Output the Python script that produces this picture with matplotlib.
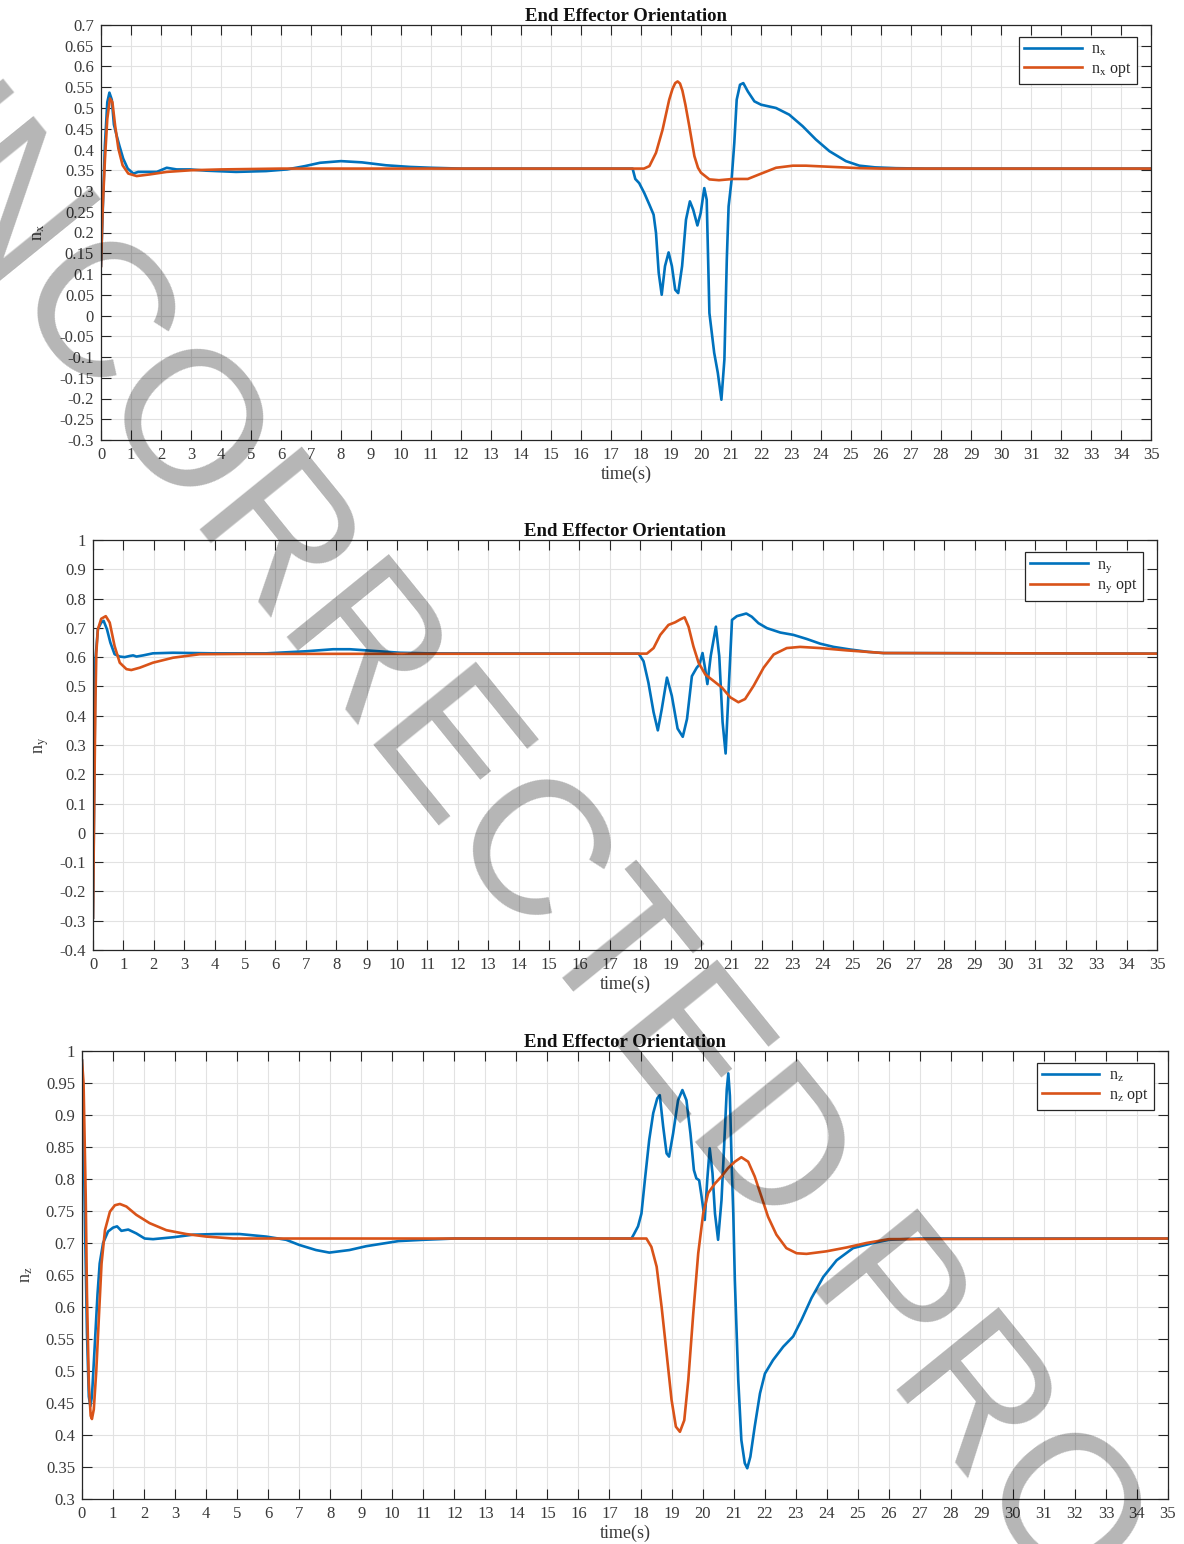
import matplotlib
matplotlib.use("Agg")
import matplotlib.pyplot as plt
from matplotlib.ticker import FuncFormatter, MultipleLocator

plt.rcParams['font.family'] = ['Liberation Serif', 'DejaVu Serif']
plt.rcParams['mathtext.fontset'] = 'stix'

BLUE = '#0072BD'
ORANGE = '#D95319'
INK = '#262626'

# ---------------- n_x ----------------
t_nx = [0.0, 0.07, 0.13, 0.21, 0.28, 0.36, 0.43, 0.52, 0.61, 0.74, 0.89, 1.08, 1.24, 1.41,
        1.86, 2.19, 2.52, 2.97, 3.5, 4.5, 5.5, 6.2, 6.8, 7.3, 8.0, 8.7, 9.5, 10.3, 11.0, 12.0,
        17.72, 17.81, 17.94, 18.11, 18.28, 18.42, 18.5, 18.59, 18.69, 18.8, 18.92, 19.03,
        19.14, 19.24, 19.37, 19.5, 19.63, 19.74, 19.88, 19.99, 20.11, 20.19, 20.28, 20.44,
        20.56, 20.68, 20.78, 20.86, 20.92, 21.02, 21.11, 21.19, 21.3, 21.41, 21.56, 21.78,
        22.0, 22.5, 22.94, 23.39, 23.83, 24.28, 24.83, 25.28, 25.8, 26.5, 27.5, 35.0]
nx = [0.12, 0.28, 0.41, 0.514, 0.537, 0.52, 0.46, 0.434, 0.41, 0.378, 0.354, 0.342, 0.346, 0.346,
      0.346, 0.356, 0.352, 0.352, 0.349, 0.346, 0.348, 0.352, 0.36, 0.368, 0.372, 0.369, 0.362,
      0.358, 0.356, 0.354,
      0.354, 0.329, 0.319, 0.295, 0.267, 0.243, 0.199, 0.103, 0.05, 0.119, 0.152, 0.119,
      0.062, 0.054, 0.119, 0.231, 0.275, 0.255, 0.217, 0.247, 0.307, 0.279, 0.006, -0.09,
      -0.138, -0.203, -0.106, 0.135, 0.263, 0.327, 0.416, 0.52, 0.556, 0.56, 0.54, 0.516,
      0.508, 0.5, 0.484, 0.456, 0.424, 0.396, 0.372, 0.361, 0.357, 0.355, 0.354, 0.354]

t_nx_opt = [0.0, 0.056, 0.133, 0.21, 0.3, 0.38, 0.47, 0.58, 0.72, 0.91, 1.19, 1.63, 2.19, 3.0,
            4.0, 5.0, 6.0, 18.1, 18.28, 18.5, 18.72, 18.94, 19.05, 19.14, 19.22, 19.3, 19.38,
            19.48, 19.61, 19.78, 19.9, 20.0, 20.28, 20.6, 21.06, 21.56, 21.94, 22.5, 23.06,
            23.5, 24.4, 25.3, 26.0, 35.0]
nx_opt = [0.119, 0.258, 0.378, 0.474, 0.523, 0.514, 0.458, 0.402, 0.362, 0.342, 0.336, 0.34,
          0.346, 0.35, 0.352, 0.353, 0.354, 0.354, 0.36, 0.392, 0.448, 0.52, 0.546, 0.56,
          0.564, 0.559, 0.542, 0.508, 0.456, 0.384, 0.356, 0.344, 0.328, 0.326, 0.329, 0.329,
          0.34, 0.356, 0.361, 0.361, 0.358, 0.355, 0.354, 0.354]

# ---------------- n_y ----------------
t_ny = [0.0, 0.04, 0.08, 0.16, 0.27, 0.35, 0.46, 0.57, 0.71, 0.88, 1.04, 1.21, 1.32, 1.43,
        1.65, 1.97, 2.63, 3.95, 5.7, 7.0, 7.9, 8.45, 10.1, 11.0, 17.78, 17.95, 18.11, 18.27,
        18.44, 18.58, 18.71, 18.88, 19.04, 19.23, 19.4, 19.54, 19.7, 19.86, 19.95, 20.05,
        20.14, 20.21, 20.32, 20.49, 20.6, 20.71, 20.81, 20.91, 21.02, 21.18, 21.49, 21.67,
        21.89, 22.17, 22.61, 23.04, 23.48, 23.92, 24.36, 24.91, 25.5, 26.0, 35.0]
ny = [-0.29, 0.15, 0.593, 0.695, 0.718, 0.724, 0.695, 0.65, 0.61, 0.602, 0.6, 0.604, 0.606,
      0.602, 0.606, 0.613, 0.615, 0.613, 0.613, 0.62, 0.627, 0.627, 0.615, 0.613, 0.612,
      0.612, 0.586, 0.513, 0.412, 0.35, 0.423, 0.53, 0.468, 0.356, 0.328, 0.389, 0.535,
      0.564, 0.575, 0.614, 0.558, 0.508, 0.604, 0.704, 0.604, 0.378, 0.271, 0.49, 0.727,
      0.74, 0.749, 0.738, 0.716, 0.699, 0.684, 0.676, 0.662, 0.646, 0.635, 0.626, 0.618,
      0.614, 0.612]

t_ny_opt = [0.0, 0.04, 0.08, 0.11, 0.16, 0.27, 0.42, 0.55, 0.71, 0.88, 1.1, 1.26, 1.54, 1.97,
            2.63, 3.51, 5.0, 18.22, 18.44, 18.66, 18.93, 19.15, 19.32, 19.46, 19.59, 19.75,
            19.92, 20.14, 20.41, 20.69, 20.96, 21.23, 21.45, 21.73, 22.06, 22.39, 22.82, 23.26,
            23.92, 24.8, 26.0, 35.0]
ny_opt = [-0.29, 0.1, 0.45, 0.615, 0.695, 0.731, 0.74, 0.718, 0.638, 0.581, 0.559, 0.556,
          0.564, 0.581, 0.598, 0.61, 0.611, 0.612, 0.631, 0.676, 0.71, 0.719, 0.729, 0.736,
          0.704, 0.637, 0.581, 0.541, 0.519, 0.496, 0.463, 0.446, 0.457, 0.502, 0.564, 0.609,
          0.631, 0.635, 0.631, 0.623, 0.614, 0.612]

# ---------------- n_z ----------------
t_nz = [0.0, 0.04, 0.1, 0.16, 0.22, 0.27, 0.32, 0.4, 0.5, 0.57, 0.68, 0.84, 1.0, 1.13, 1.27,
        1.49, 1.75, 2.02, 2.29, 2.94, 3.58, 4.33, 5.08, 5.94, 6.58, 7.0, 7.54, 7.97, 8.62,
        9.16, 10.2, 11.0, 12.0, 17.71, 17.79, 17.92, 18.03, 18.14, 18.28, 18.41, 18.54,
        18.62, 18.73, 18.84, 18.92, 19.05, 19.21, 19.35, 19.48, 19.61, 19.72, 19.8, 19.89,
        19.97, 20.07, 20.15, 20.23, 20.32, 20.4, 20.5, 20.61, 20.72, 20.78, 20.83, 20.88,
        20.94, 20.99, 21.04, 21.15, 21.25, 21.36, 21.44, 21.54, 21.68, 21.85, 22.01, 22.27,
        22.6, 22.92, 23.19, 23.51, 23.89, 24.32, 24.85, 25.5, 26.0, 27.0, 35.0]
nz = [0.985, 0.9, 0.72, 0.56, 0.46, 0.445, 0.46, 0.53, 0.62, 0.668, 0.7, 0.718, 0.724,
      0.726, 0.719, 0.721, 0.715, 0.707, 0.706, 0.709, 0.713, 0.714, 0.714, 0.71, 0.705,
      0.697, 0.689, 0.685, 0.689, 0.695, 0.703, 0.705, 0.707, 0.707, 0.714, 0.726, 0.746,
      0.798, 0.861, 0.903, 0.926, 0.931, 0.882, 0.84, 0.835, 0.871, 0.923, 0.939, 0.923,
      0.871, 0.814, 0.801, 0.798, 0.772, 0.736, 0.798, 0.848, 0.809, 0.746, 0.705, 0.767,
      0.877, 0.94, 0.965, 0.93, 0.82, 0.746, 0.642, 0.486, 0.392, 0.356, 0.348, 0.366,
      0.413, 0.465, 0.496, 0.517, 0.538, 0.554, 0.58, 0.614, 0.647, 0.673, 0.692, 0.7,
      0.705, 0.707, 0.707]

t_nz_opt = [0.0, 0.05, 0.12, 0.16, 0.22, 0.28, 0.32, 0.38, 0.46, 0.56, 0.63, 0.74, 0.9, 1.06,
            1.22, 1.43, 1.75, 2.18, 2.72, 3.36, 4.01, 4.87, 18.19, 18.35, 18.52, 18.68, 18.84,
            19.0, 19.14, 19.27, 19.41, 19.54, 19.7, 19.86, 20.02, 20.18, 20.4, 20.61, 20.82,
            21.04, 21.25, 21.47, 21.68, 21.9, 22.11, 22.38, 22.7, 23.03, 23.35, 23.99, 24.64,
            25.28, 26.0, 35.0]
nz_opt = [0.985, 0.95, 0.772, 0.62, 0.48, 0.43, 0.425, 0.44, 0.5, 0.6, 0.668, 0.72, 0.749,
          0.759, 0.761, 0.757, 0.744, 0.731, 0.72, 0.714, 0.71, 0.707, 0.707, 0.694, 0.663,
          0.6, 0.528, 0.455, 0.413, 0.405, 0.423, 0.486, 0.59, 0.684, 0.746, 0.778, 0.793,
          0.804, 0.817, 0.827, 0.834, 0.827, 0.804, 0.772, 0.741, 0.713, 0.692, 0.684, 0.683,
          0.687, 0.693, 0.7, 0.706, 0.707]

x_max = 35
panels = [
    dict(pos=(101, 25, 1151, 440), ylim=(-0.3, 0.7), ystep=0.05, sym='x', ypad=9,
         blue=(t_nx, nx), orange=(t_nx_opt, nx_opt)),
    dict(pos=(93, 540, 1157, 950), ylim=(-0.4, 1.0), ystep=0.1, sym='y', ypad=6,
         blue=(t_ny, ny), orange=(t_ny_opt, ny_opt)),
    dict(pos=(82, 1051, 1168, 1499), ylim=(0.3, 1.0), ystep=0.05, sym='z', ypad=8,
         blue=(t_nz, nz), orange=(t_nz_opt, nz_opt)),
]

W, H = 1184, 1544
fig = plt.figure(figsize=(W / 100, H / 100), dpi=100)


def tick_fmt(v, pos):
    s = f'{v:.2f}'.rstrip('0').rstrip('.')
    return '0' if s in ('-0', '') else s


for p in panels:
    x0, y0, x1, y1 = p['pos']
    ax = fig.add_axes([x0 / W, 1 - y1 / H, (x1 - x0) / W, (y1 - y0) / H])
    ax.plot(*p['blue'], color=BLUE, lw=1.9, label=r'n$_{\mathrm{%s}}$' % p['sym'])
    ax.plot(*p['orange'], color=ORANGE, lw=1.9, label=r'n$_{\mathrm{%s}}$ opt' % p['sym'])
    ax.set_xlim(0, x_max)
    ax.set_ylim(*p['ylim'])
    ax.xaxis.set_major_locator(MultipleLocator(1))
    ax.yaxis.set_major_locator(MultipleLocator(p['ystep']))
    ax.yaxis.set_major_formatter(FuncFormatter(tick_fmt))
    ax.grid(True, color='#e2e2e2', lw=0.8)
    ax.set_axisbelow(True)
    for s in ax.spines.values():
        s.set_color(INK)
        s.set_linewidth(0.9)
    ax.tick_params(direction='in', length=7, width=0.8, top=True, right=True,
                   color=INK, labelcolor='#3a3a3a', labelsize=12, pad=5)
    ax.set_title('End Effector Orientation', fontsize=13.5, fontweight='bold',
                 color='#111111', pad=3)
    ax.set_xlabel('time(s)', fontsize=13, color='#3a3a3a', labelpad=2)
    ax.set_ylabel(r'n$_{\mathrm{%s}}$' % p['sym'], fontsize=13, color='#3a3a3a',
                  labelpad=p['ypad'])
    leg = ax.legend(loc='upper right',
                    bbox_to_anchor=(1 - 14 / (x1 - x0), 1 - 12 / (y1 - y0)),
                    borderaxespad=0, fancybox=False, framealpha=1, edgecolor=INK,
                    fontsize=11.5, handlelength=3.6, handletextpad=0.6,
                    labelspacing=0.2, borderpad=0.3)
    leg.get_frame().set_linewidth(0.9)
    for txt in leg.get_texts():
        txt.set_color('#262626')

# diagonal proof stamp across the page
fig.text(572 / W, 1 - 912 / H, 'UNCORRECTED PROOF', fontsize=138,
         family='Liberation Sans', color='black', alpha=0.29,
         rotation=-51, rotation_mode='anchor', ha='center', va='center', zorder=10)

fig.savefig('out.png', dpi=100)
